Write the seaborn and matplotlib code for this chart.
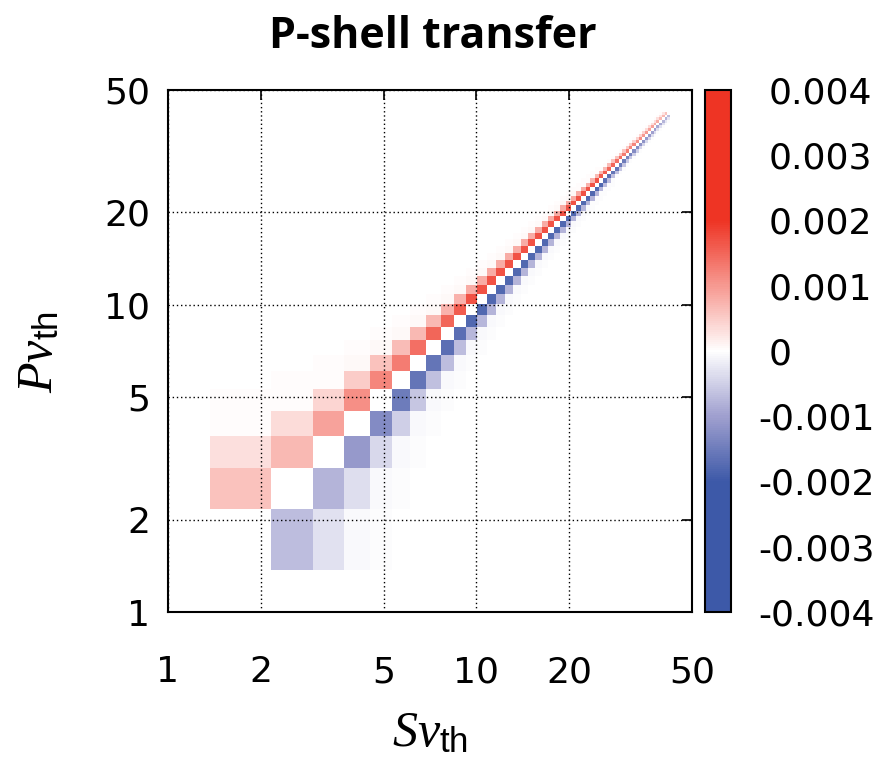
import numpy as np
import pandas as pd
import matplotlib
matplotlib.use("Agg")
import matplotlib.pyplot as plt
import seaborn as sns
from matplotlib.colors import LinearSegmentedColormap
from matplotlib.ticker import FixedLocator, NullLocator, FixedFormatter

sns.set_theme(style="white")
plt.rcParams['font.family'] = ['DejaVu Sans']
plt.rcParams['text.color'] = 'black'
plt.rcParams['mathtext.fontset'] = 'custom'
plt.rcParams['mathtext.it'] = 'Liberation Serif:italic'
plt.rcParams['mathtext.rm'] = 'Liberation Serif'
plt.rcParams['mathtext.sf'] = 'Liberation Sans'

# ---------------- data ----------------
title = "P-shell transfer"
x_label = r"$Sv_{\mathsf{th}}$"
y_label = r"$Pv_{\mathsf{th}}$"
axis_ticks = [1, 2, 5, 10, 20, 50]
axis_tick_labels = ["1", "2", "5", "10", "20", "50"]
cbar_ticks = [-0.004, -0.003, -0.002, -0.001, 0, 0.001, 0.002, 0.003, 0.004]
cbar_tick_labels = ["-0.004", "-0.003", "-0.002", "-0.001", "0",
                    "0.001", "0.002", "0.003", "0.004"]

# velocity bins (linear bins, shown on log axes)
bin_start = 1.37
bin_width = 0.787
n_bins = 52

# off-diagonal bands, units of 1e-4
# above diagonal (P bin = S bin + d), positive
band_up1 = [6, 7, 9, 11, 12, 13, 14, 15, 15, 16,
            17, 17, 17, 17, 17, 17, 17, 17, 17, 17,
            17, 17, 17, 17, 17, 17, 17, 17, 17, 17,
            16, 16, 15, 15, 14, 14, 13, 13, 12, 12,
            11, 11, 10, 10, 9, 9, 8, 8, 7, 7,
            6]
band_up2 = [3, 3.5, 4, 5, 6, 6.5, 7, 7, 7.5, 7.5,
            8, 8, 8, 8, 8, 8, 8, 8, 8, 8,
            8, 8, 8, 8, 8, 8, 8, 7.5, 7.5, 7,
            7, 6.5, 6.5, 6, 6, 5.5, 5.5, 5, 5, 4.5,
            4.5, 4, 4, 3.5, 3.5, 3, 3, 3, 2.5, 2.5]
band_up3 = [0.3, 0.4, 0.4, 0.5, 0.5, 0.5, 0.5, 0.5, 0.5, 0.5,
            0.5, 0.5, 0.5, 0.5, 0.5, 0.5, 0.5, 0.5, 0.5, 0.5,
            0.5, 0.5, 0.5, 0.5, 0.5, 0.4, 0.4, 0.4, 0.4, 0.4,
            0.4, 0.4, 0.3, 0.3, 0.3, 0.3, 0.3, 0.3, 0.3, 0.3,
            0.2, 0.2, 0.2, 0.2, 0.2, 0.2, 0.2, 0.2, 0.2]
band_up4 = [0.2, 0.2, 0.3, 0.3, 0.3, 0.3, 0.3, 0.3, 0.3, 0.3,
            0.3, 0.3, 0.3, 0.3, 0.3, 0.3, 0.2, 0.2, 0.2, 0.2,
            0.2, 0.2, 0.2, 0.2, 0.2, 0.2, 0.2, 0.2, 0.2, 0.2,
            0.1, 0.1, 0.1, 0.1, 0.1, 0.1, 0.1, 0.1, 0.1, 0.1,
            0.1, 0.1, 0.1, 0.1, 0.1, 0.1, 0.1, 0.1]
# below diagonal (S bin = P bin + d), negative
band_dn1 = [-7, -8, -11, -13, -15, -16, -16, -17, -17, -18,
            -18, -18, -18, -18, -18, -18, -18, -18, -18, -18,
            -18, -18, -18, -18, -18, -18, -18, -18, -18, -18,
            -17, -17, -16, -16, -15, -15, -14, -14, -13, -13,
            -12, -12, -11, -11, -10, -10, -9, -9, -8, -8,
            -7]
band_dn2 = [-3, -3.5, -4, -5, -6, -6.5, -7, -7, -7.5, -7.5,
            -8, -8, -8, -8, -8, -8, -8, -8, -8, -8,
            -8, -8, -8, -8, -8, -8, -8, -7.5, -7.5, -7,
            -7, -6.5, -6.5, -6, -6, -5.5, -5.5, -5, -5, -4.5,
            -4.5, -4, -4, -3.5, -3.5, -3, -3, -3, -2.5, -2.5]
band_dn3 = [-0.5, -0.5, -0.5, -0.6, -0.6, -0.6, -0.6, -0.6, -0.6, -0.6,
            -0.6, -0.6, -0.6, -0.6, -0.6, -0.6, -0.5, -0.5, -0.5, -0.5,
            -0.5, -0.5, -0.5, -0.5, -0.5, -0.4, -0.4, -0.4, -0.4, -0.4,
            -0.4, -0.4, -0.3, -0.3, -0.3, -0.3, -0.3, -0.3, -0.3, -0.3,
            -0.2, -0.2, -0.2, -0.2, -0.2, -0.2, -0.2, -0.2, -0.2]
band_dn4 = [-0.2, -0.3, -0.3, -0.3, -0.3, -0.3, -0.3, -0.3, -0.3, -0.3,
            -0.3, -0.3, -0.3, -0.3, -0.3, -0.3, -0.2, -0.2, -0.2, -0.2,
            -0.2, -0.2, -0.2, -0.2, -0.2, -0.2, -0.2, -0.2, -0.2, -0.2,
            -0.1, -0.1, -0.1, -0.1, -0.1, -0.1, -0.1, -0.1, -0.1, -0.1,
            -0.1, -0.1, -0.1, -0.1, -0.1, -0.1, -0.1, -0.1]

# ---------------- table ----------------
edges = bin_start + bin_width * np.arange(n_bins + 1)
centers = np.sqrt(edges[:-1] * edges[1:])

records = []
for d, band in [(1, band_up1), (2, band_up2), (3, band_up3), (4, band_up4)]:
    for k, v in enumerate(band):
        records.append((centers[k], centers[k + d], v * 1e-4))
for d, band in [(1, band_dn1), (2, band_dn2), (3, band_dn3), (4, band_dn4)]:
    for k, v in enumerate(band):
        records.append((centers[k + d], centers[k], v * 1e-4))
df = pd.DataFrame(records, columns=["S", "P", "w"])

blue = (61 / 255, 89 / 255, 168 / 255)
lav = (160 / 255, 160 / 255, 207 / 255)
red = (238 / 255, 52 / 255, 36 / 255)
cmap = LinearSegmentedColormap.from_list(
    "gp", [(0.0, blue), (0.25, blue), (0.375, lav), (0.5, (1, 1, 1)),
           (0.75, red), (1.0, red)], N=255)

# ---------------- figure ----------------
fig = plt.figure(figsize=(8.93, 7.58), dpi=100)
W, H = 893, 758
ax = fig.add_axes([168 / W, 1 - 612 / H, 524 / W, 522 / H])
cax = fig.add_axes([705 / W, 1 - 612 / H, 26 / W, 522 / H])

sns.histplot(data=df, x="S", y="P", weights="w", bins=list(np.log10(edges)),
             log_scale=True, thresh=None, cmap=cmap, vmin=-0.004, vmax=0.004,
             cbar=True, cbar_ax=cax, cbar_kws=dict(ticks=cbar_ticks), ax=ax)

ax.set_xlim(1, 50)
ax.set_ylim(1, 50)
for axis in (ax.xaxis, ax.yaxis):
    axis.set_major_locator(FixedLocator(axis_ticks))
    axis.set_major_formatter(FixedFormatter(axis_tick_labels))
    axis.set_minor_locator(NullLocator())
ax.set_xlabel("")
ax.set_ylabel("")
ax.grid(True, which="major", color="black", linestyle=(0, (1, 2)), linewidth=1.0)
ax.set_axisbelow(False)
ax.tick_params(axis="both", which="major", direction="in", length=7, width=1.2,
               color="black", top=True, right=True, labelsize=26, labelcolor="black")
ax.tick_params(axis="x", pad=31)
ax.tick_params(axis="y", pad=13)
for sp in ax.spines.values():
    sp.set_visible(True)
    sp.set_color("black")
    sp.set_linewidth(1.5)

cax.yaxis.set_major_formatter(FixedFormatter(cbar_tick_labels))
cax.yaxis.set_minor_locator(NullLocator())
cax.tick_params(axis="y", direction="in", length=8, width=1.2, color="black",
                left=True, right=True, labelsize=26, labelcolor="black", pad=27)
for sp in cax.spines.values():
    sp.set_color("black")
    sp.set_linewidth(1.5)
for lab, txt in zip(cax.yaxis.get_major_ticks(), cbar_tick_labels):
    if txt.startswith("-"):
        lab.label2.set_x(1.0 - 10 / 26)

fig.text(433 / W, 1 - 36 / H, title, ha="center", va="center", color="black",
         fontsize=31, fontweight="bold", family=["Open Sans", "DejaVu Sans"])
fig.text(38 / W, 1 - 352 / H, y_label, rotation=90, ha="center", va="center",
         fontsize=36, color="black")
fig.text(430 / W, 1 - 732 / H, x_label, ha="center", va="center", fontsize=36,
         color="black")

fig.savefig("out.png", dpi=100)
